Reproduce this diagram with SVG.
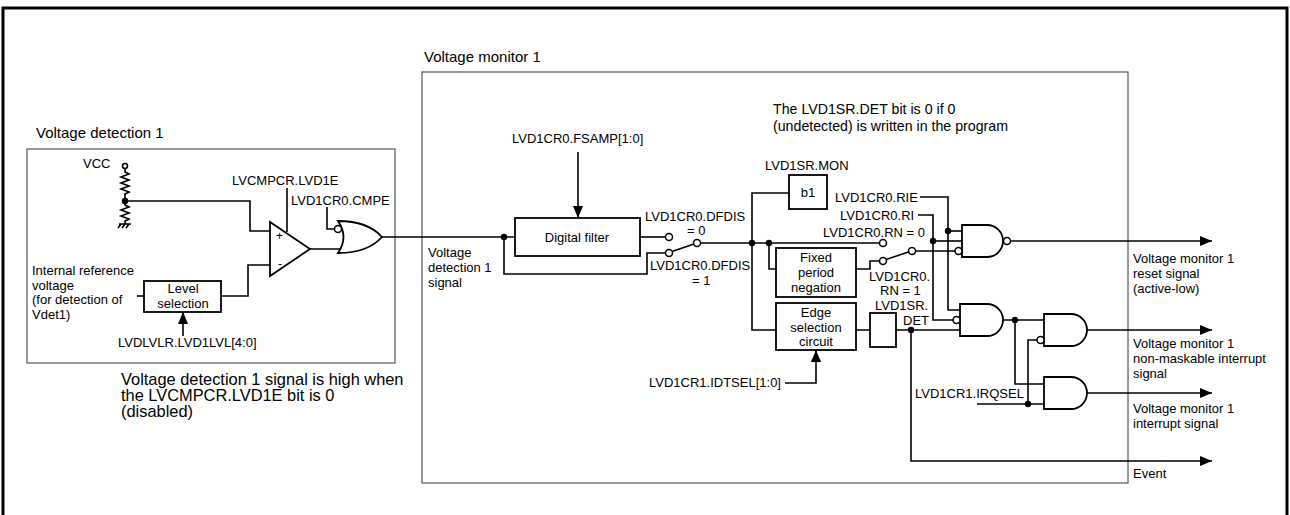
<svg xmlns="http://www.w3.org/2000/svg" width="1290" height="515" viewBox="0 0 1290 515">
<style>
text{font-family:"Liberation Sans",Arial,sans-serif;font-size:13px;fill:#000}
.t{font-size:15px}
.c{font-size:14.2px}
.c2{font-size:16.4px}
.m{text-anchor:middle}
.w{fill:none;stroke:#000;stroke-width:1.6}
.b{fill:#fff;stroke:#000;stroke-width:1.8}
.g{fill:none;stroke:#555;stroke-width:1.2}
.d{fill:#000}
.o{fill:#fff;stroke:#000;stroke-width:1.5}
</style>
<defs>
<marker id="arr" viewBox="0 0 12 10" refX="12" refY="5" markerUnits="userSpaceOnUse" markerWidth="12" markerHeight="10" orient="auto"><path d="M0,0 L12,5 L0,10 Z" fill="#000"/></marker>
</defs>
<rect width="1290" height="515" fill="#fff"/>
<path d="M3,515 V8 H1287 V515" fill="none" stroke="#000" stroke-width="3"/>

<g id="voltage-detection-1">
<rect class="g" x="27" y="149" width="368" height="214"/>
<text class="t" x="36" y="138">Voltage detection 1</text>
</g>
<g id="voltage-monitor-1">
<rect class="g" x="422" y="72" width="706" height="411"/>
<text class="t" x="424" y="62">Voltage monitor 1</text>
</g>

<g id="connectors">
<path class="w" d="M125,168.5 V172 l4,2 l-8,3 l8,3 l-8,3 l8,3 l-8,3 l8,3 l-4,2 V205 l4,2 l-8,3 l8,3 l-8,3 l8,3 l-4,2 V224"/>
<path class="w" d="M119,224 H131 M121,224 l-3,4 M125,224 l-3,4 M129,224 l-3,4"/>
<path class="w" d="M125,201 H250 V231 H270"/>
<path class="w" d="M222,296 H248 V265 H270"/>
<path class="w" d="M137,296 H144"/>
<path class="w" d="M287,188 V232"/>
<path class="w" d="M327,207 V229 H334.5"/>
<path class="w" d="M310,249 H343"/>
<path class="w" d="M183,336 V312" marker-end="url(#arr)"/>
<path class="w" d="M382,237 H515"/>
<path class="w" d="M504,237 V274 H647 V253 H665.5"/>
<path class="w" d="M640,237 H665.5"/>
<path class="w" d="M672,251.5 L694,244"/>
<path class="w" d="M578,152 V218" marker-end="url(#arr)"/>
<path class="w" d="M700.5,243 H879.5"/>
<path class="w" d="M789,193 H752 V330 H776"/>
<path class="w" d="M769,243 V269 H776"/>
<path class="w" d="M856,269 H870 V261 H879.5"/>
<path class="w" d="M886,259.5 L908.5,252"/>
<path class="w" d="M915.5,251 H955"/>
<path class="w" d="M785,383 H816 V350" marker-end="url(#arr)"/>
<path class="w" d="M856,330 H870 M896,330 H960"/>
<path class="w" d="M920,197 H948 V310 H960"/>
<path class="w" d="M948,231 H962"/>
<path class="w" d="M918,215 H933 V320 H953"/>
<path class="w" d="M933,241 H962"/>
<path class="w" d="M1010.5,241 H1212" marker-end="url(#arr)"/>
<path class="w" d="M1003,320 H1044"/>
<path class="w" d="M1015,320 V384 H1044"/>
<path class="w" d="M977,404 H1044"/>
<path class="w" d="M1028,404 V340 H1037"/>
<path class="w" d="M1087,330 H1212" marker-end="url(#arr)"/>
<path class="w" d="M1087,393 H1212" marker-end="url(#arr)"/>
<path class="w" d="M911,330 V461 H1212" marker-end="url(#arr)"/>
<circle class="d" cx="125" cy="201" r="3.2"/>
<circle class="d" cx="504" cy="237" r="3.2"/>
<circle class="d" cx="752" cy="243" r="3.2"/>
<circle class="d" cx="769" cy="243" r="3.2"/>
<circle class="d" cx="948" cy="231" r="3.2"/>
<circle class="d" cx="933" cy="241" r="3.2"/>
<circle class="d" cx="911" cy="330" r="3.2"/>
<circle class="d" cx="1015" cy="320" r="3.2"/>
<circle class="d" cx="1028" cy="404" r="3.2"/>
<circle class="o" cx="669" cy="237" r="3.5"/>
<circle class="o" cx="669" cy="253" r="3.5"/>
<circle class="o" cx="697" cy="243" r="3.5"/>
<circle class="o" cx="883" cy="243" r="3.5"/>
<circle class="o" cx="883" cy="261" r="3.5"/>
<circle class="o" cx="912" cy="251" r="3.5"/>
<circle class="o" cx="125" cy="166" r="2.5"/>
</g>

<g id="comparator">
<path class="b" d="M270,222 V276 L310,249 Z"/>
<text x="276" y="240" style="font-size:12px">+</text>
<text x="278" y="268" style="font-size:12px">-</text>
</g>
<g id="or-gate">
<path class="b" d="M338,221 C361,221 374,228 382,237 C374,246 361,253 338,253 Q349,237 338,221 Z"/>
<circle class="o" cx="338" cy="229" r="3.5"/>
</g>
<g id="level-selection">
<rect class="b" x="144" y="281" width="77" height="31"/>
<text class="m" x="183" y="293">Level</text>
<text class="m" x="183" y="308">selection</text>
</g>
<g id="digital-filter">
<rect class="b" x="515" y="218" width="125" height="38"/>
<text class="m" x="577" y="242">Digital filter</text>
</g>
<g id="b1">
<rect class="b" x="789" y="175" width="38" height="34"/>
<text class="m" x="808" y="197">b1</text>
</g>
<g id="fixed-period-negation">
<rect class="b" x="776" y="248" width="80" height="49"/>
<text class="m" x="816" y="262">Fixed</text>
<text class="m" x="816" y="277">period</text>
<text class="m" x="816" y="292">negation</text>
</g>
<g id="edge-selection">
<rect class="b" x="776" y="303" width="80" height="47"/>
<text class="m" x="816" y="317">Edge</text>
<text class="m" x="816" y="332">selection</text>
<text class="m" x="816" y="346">circuit</text>
</g>
<g id="lvd1sr-det">
<rect class="b" x="870" y="313" width="26" height="34"/>
</g>
<g id="nand-reset">
<path class="b" d="M962,225 H987 A16,16 0 0 1 987,257 H962 Z"/>
<circle class="o" cx="1007" cy="241" r="3.5"/>
<circle class="o" cx="958.5" cy="251" r="3.5"/>
</g>
<g id="and-det">
<path class="b" d="M960,304 H987 A16,16 0 0 1 987,336 H960 Z"/>
<circle class="o" cx="956.5" cy="320" r="3.5"/>
</g>
<g id="and-nmi">
<path class="b" d="M1044,314 H1071 A16,16 0 0 1 1071,346 H1044 Z"/>
<circle class="o" cx="1040.5" cy="340" r="3.5"/>
</g>
<g id="and-irq">
<path class="b" d="M1044,377 H1071 A16,16 0 0 1 1071,409 H1044 Z"/>
</g>

<g id="labels">
<text x="83" y="168">VCC</text>
<text x="232" y="185">LVCMPCR.LVD1E</text>
<text x="291" y="205">LVD1CR0.CMPE</text>
<text x="32" y="275">Internal reference</text>
<text x="32" y="289.5">voltage</text>
<text x="32" y="304">(for detection of</text>
<text x="32" y="318.5">Vdet1)</text>
<text x="118" y="347">LVDLVLR.LVD1LVL[4:0]</text>
<text class="c2" x="121" y="385">Voltage detection 1 signal is high when</text>
<text class="c2" x="121" y="401">the LVCMPCR.LVD1E bit is 0</text>
<text class="c2" x="121" y="417">(disabled)</text>
<text x="428" y="257">Voltage</text>
<text x="428" y="272">detection 1</text>
<text x="428" y="287">signal</text>
<text x="512" y="143">LVD1CR0.FSAMP[1:0]</text>
<text x="645" y="221">LVD1CR0.DFDIS</text>
<text x="687" y="235">= 0</text>
<text x="650" y="270">LVD1CR0.DFDIS</text>
<text x="692" y="285">= 1</text>
<text class="c" x="773" y="114">The LVD1SR.DET bit is 0 if 0</text>
<text class="c" x="773" y="131">(undetected) is written in the program</text>
<text x="765" y="170">LVD1SR.MON</text>
<text x="835" y="202">LVD1CR0.RIE</text>
<text x="840" y="220">LVD1CR0.RI</text>
<text x="823" y="237">LVD1CR0.RN = 0</text>
<text x="869" y="281">LVD1CR0.</text>
<text x="880" y="295">RN = 1</text>
<text x="875" y="310">LVD1SR.</text>
<text x="903" y="325">DET</text>
<text x="649" y="387">LVD1CR1.IDTSEL[1:0]</text>
<text x="915" y="398">LVD1CR1.IRQSEL</text>
<text x="1133" y="263">Voltage monitor 1</text>
<text x="1133" y="278">reset signal</text>
<text x="1133" y="293">(active-low)</text>
<text x="1133" y="348">Voltage monitor 1</text>
<text x="1133" y="363">non-maskable interrupt</text>
<text x="1133" y="378">signal</text>
<text x="1133" y="413">Voltage monitor 1</text>
<text x="1133" y="428">interrupt signal</text>
<text x="1133" y="478">Event</text>
</g>
</svg>
